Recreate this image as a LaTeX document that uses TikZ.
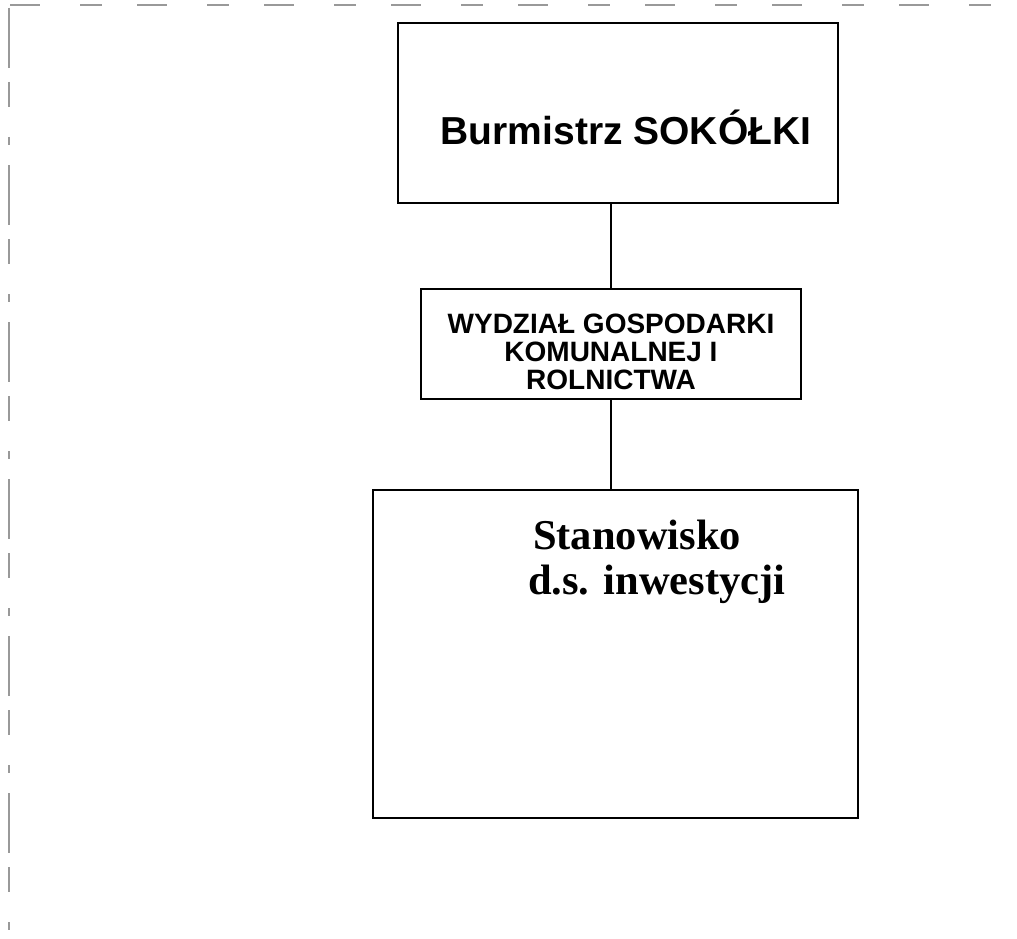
\documentclass[tikz,border=0pt]{standalone}
\usepackage{fontspec}
\setmainfont{Liberation Serif}
\newfontfamily\arialfam{Liberation Sans}
\begin{document}
\begin{tikzpicture}[x=1pt,y=-1pt,
  orgbox/.style={draw=black,line width=1.3pt,rectangle,inner sep=0pt},
  conn/.style={draw=black,line width=1.5pt},
  frameline/.style={draw=black!40,line width=1.1pt}]
\useasboundingbox[fill=white] (0,0) rectangle (1017,939);
% faint scanned frame
\draw[frameline,dash pattern=on 30pt off 40pt on 22pt off 35pt] (10,5) -- (1017,5);
\draw[frameline,dash pattern=on 60pt off 14pt on 25pt off 30pt on 8pt off 20pt] (9,8) -- (9,939);
% boxes
\node[orgbox,minimum width=440pt,minimum height=180pt] (b1) at (618,113) {};
\node[orgbox,minimum width=380pt,minimum height=110pt] (b2) at (611,344) {};
\node[orgbox,minimum width=485pt,minimum height=328pt] (b3) at (615.5,654) {};
% texts
\node[font=\arialfam\bfseries\fontsize{39}{41}\selectfont,inner sep=0pt] (t1) at (626,127) {Burmistrz SOKÓŁKI};
\node[font=\arialfam\bfseries\fontsize{28}{28}\selectfont,align=center,inner sep=0pt] (t2) at (611,352) {WYDZIAŁ GOSPODARKI\\KOMUNALNEJ I\\ROLNICTWA};
\node[font=\bfseries\fontsize{42.5}{45}\selectfont,align=left,inner sep=0pt,anchor=north west] (t3) at (528,520) {\hspace*{5pt}Stanowisko\\d.s. inwestycji};
% connectors
\draw[conn] (b2.north |- b1.south) -- (b2.north);
\draw[conn] (b2.south) -- (b2.south |- b3.north);
\end{tikzpicture}
\end{document}
